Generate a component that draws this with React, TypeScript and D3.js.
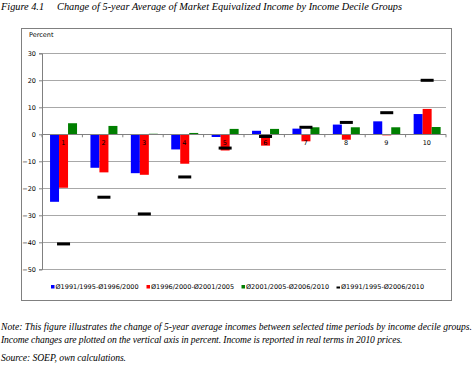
import * as d3 from 'd3';
import React, { useEffect, useRef } from 'react';

// decile groups and the changes (percent)
const deciles = ['1', '2', '3', '4', '5', '6', '7', '8', '9', '10'];
const series = ['Ø1991/1995-Ø1996/2000', 'Ø1996/2000-Ø2001/2005', 'Ø2001/2005-Ø2006/2010'];
const change9500 = [-25, -12.4, -14.4, -5.6, -1, 1.3, 2.1, 3.6, 4.8, 7.5];
const change0005 = [-19.8, -14.1, -15, -10.9, -6, -4.2, -2.6, -2, -0.4, 9.4];
const change0510 = [4.1, 3.1, 0.2, 0.5, 2, 2, 2.6, 2.6, 2.6, 2.7];
const totalLabel = 'Ø1991/1995-Ø2006/2010';
const change9510 = [-40.6, -23.3, -29.5, -15.8, -5.1, -0.8, 2.6, 4.4, 8, 20];
const yTicks = [30, 20, 10, 0, -10, -20, -30, -40, -50];
const colors = ['#0000ff', '#ff0000', '#007f00'];

function App() {
  const ref = useRef<SVGSVGElement>(null);

  useEffect(() => {
    const svg = d3.select(ref.current);
    svg.selectAll('*').remove();

    const sans = 'DejaVu Sans, Verdana, sans-serif';
    const serif = 'Liberation Serif, Times New Roman, serif';

    // title
    svg.append('text')
      .attr('x', 1).attr('y', 10)
      .style('font-family', serif).style('font-style', 'italic').style('font-size', '10.3px')
      .text('Figure 4.1');
    svg.append('text')
      .attr('x', 57).attr('y', 10)
      .attr('textLength', 345).attr('lengthAdjust', 'spacing')
      .style('font-family', serif).style('font-style', 'italic').style('font-size', '10.3px')
      .text('Change of 5-year Average of Market Equivalized Income by Income Decile Groups');

    // chart box
    svg.append('rect')
      .attr('x', 21.5).attr('y', 28.5).attr('width', 430).attr('height', 272)
      .attr('fill', 'none').attr('stroke', '#808080');

    svg.append('text')
      .attr('x', 29).attr('y', 37)
      .style('font-family', sans).style('font-size', '6.5px')
      .text('Percent');

    const y = d3.scaleLinear().domain([-50, 30]).range([269.3, 53.3]);
    const x = d3.scaleBand().domain(deciles).range([42, 446]).padding(0);
    const xs = d3.scaleBand().domain(series).range([0, x.bandwidth()])
      .paddingInner(0).paddingOuter(0.745).align(0.6);

    // gridlines
    svg.append('g').selectAll('line')
      .data(yTicks.filter(d => d !== 0))
      .enter().append('line')
      .attr('x1', 42).attr('x2', 446)
      .attr('y1', d => Math.round(y(d)) + 0.5).attr('y2', d => Math.round(y(d)) + 0.5)
      .attr('stroke', '#a8a8a8').attr('stroke-width', 1);

    // y axis
    const yAxis = d3.axisLeft(y).tickValues(yTicks).tickSize(3).tickPadding(3);
    const ga = svg.append('g').attr('transform', 'translate(42,0)').call(yAxis);
    ga.select('.domain').attr('stroke', '#808080');
    ga.selectAll('.tick line').attr('stroke', '#808080');
    ga.selectAll('text')
      .style('font-family', sans).style('font-size', '6.5px').attr('fill', '#000');

    const rows = [change9500, change0005, change0510];

    // bars
    rows.forEach((vals, si) => {
      svg.append('g').selectAll('rect')
        .data(vals)
        .enter().append('rect')
        .attr('x', (d, i) => (x(deciles[i]) as number) + (xs(series[si]) as number))
        .attr('width', xs.bandwidth())
        .attr('y', d => y(Math.max(0, d)))
        .attr('height', d => Math.abs(y(d) - y(0)))
        .attr('fill', colors[si]);
    });

    // zero line with category ticks
    svg.append('line')
      .attr('x1', 42).attr('x2', 446)
      .attr('y1', Math.round(y(0)) + 0.5).attr('y2', Math.round(y(0)) + 0.5)
      .attr('stroke', '#808080');
    svg.append('g').selectAll('line')
      .data(deciles.concat(['end']))
      .enter().append('line')
      .attr('x1', (d, i) => 42 + i * x.step()).attr('x2', (d, i) => 42 + i * x.step())
      .attr('y1', y(0)).attr('y2', y(0) + 3)
      .attr('stroke', '#808080');

    // total change markers
    svg.append('g').selectAll('rect')
      .data(change9510)
      .enter().append('rect')
      .attr('x', (d, i) => (x(deciles[i]) as number) + (xs(series[1]) as number) + xs.bandwidth() / 2 - 6.5)
      .attr('width', 13)
      .attr('y', d => y(d) - 1.5)
      .attr('height', 3)
      .attr('fill', '#000');

    // decile labels
    svg.append('g').selectAll('text')
      .data(deciles)
      .enter().append('text')
      .attr('x', d => (x(d) as number) + x.bandwidth() / 2 + 1)
      .attr('y', y(0) + 11)
      .attr('text-anchor', 'middle')
      .style('font-family', sans).style('font-size', '6.5px')
      .text(d => d);

    // legend
    const legend = [
      { label: series[0], color: colors[0], x: 51, kind: 'box' },
      { label: series[1], color: colors[1], x: 146.5, kind: 'box' },
      { label: series[2], color: colors[2], x: 241.5, kind: 'box' },
      { label: totalLabel, color: '#000', x: 336.5, kind: 'dash' },
    ];
    const lg = svg.append('g').selectAll('g')
      .data(legend)
      .enter().append('g')
      .attr('transform', d => 'translate(' + d.x + ',287)');
    lg.append('rect')
      .attr('x', 0)
      .attr('y', d => (d.kind === 'box' ? -2 : -0.5))
      .attr('width', 3.5)
      .attr('height', d => (d.kind === 'box' ? 3.5 : 2))
      .attr('fill', d => d.color);
    lg.append('text')
      .attr('x', 4.5).attr('y', 2.3)
      .style('font-family', sans).style('font-size', '6.5px')
      .text(d => d.label);

    // notes
    const notes = [
      { t: 'Note: This figure illustrates the change of 5-year average incomes between selected time periods by income decile groups.', y: 329.5, w: 471 },
      { t: 'Income changes are plotted on the vertical axis in percent. Income is reported in real terms in 2010 prices.', y: 342.5, w: 401.5 },
      { t: 'Source: SOEP, own calculations.', y: 360.5, w: 125 },
    ];
    svg.append('g').selectAll('text')
      .data(notes)
      .enter().append('text')
      .attr('x', 1).attr('y', d => d.y)
      .attr('textLength', d => d.w).attr('lengthAdjust', 'spacing')
      .style('font-family', serif).style('font-style', 'italic').style('font-size', '9.6px')
      .text(d => d.t);
  }, []);

  return (
    <div style={{ position: 'absolute', left: 0, top: 0 }}>
      <svg ref={ref} width={474} height={368} style={{ display: 'block', background: '#fff' }} />
    </div>
  );
}

export default App;
